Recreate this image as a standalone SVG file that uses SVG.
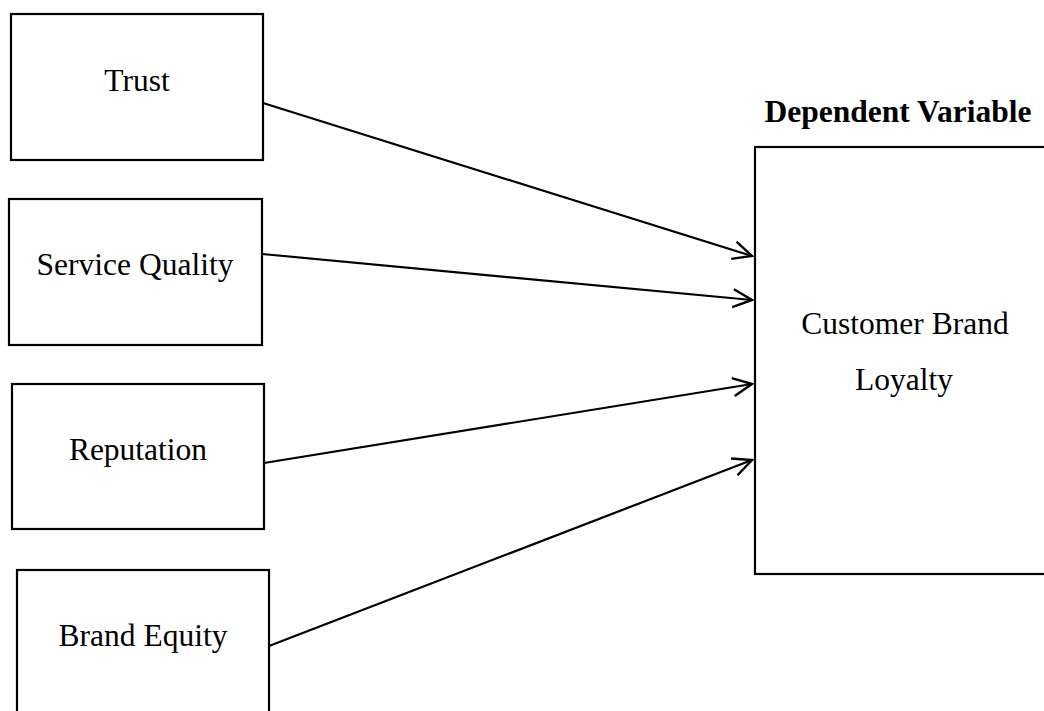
<svg xmlns="http://www.w3.org/2000/svg" width="1044" height="711" viewBox="0 0 1044 711">
<defs>
<style>
.box{fill:#fff;stroke:#000;stroke-width:2.2}
.lbl{font-family:"Liberation Serif","Times New Roman",serif;font-size:31.5px;fill:#000;text-anchor:middle}
.hdr{font-family:"Liberation Serif","Times New Roman",serif;font-size:31.5px;font-weight:bold;fill:#000;text-anchor:middle}
.con{fill:none;stroke:#000;stroke-width:2.2;marker-end:url(#arr)}
</style>
<marker id="arr" markerWidth="24" markerHeight="24" refX="20" refY="10" orient="auto" markerUnits="userSpaceOnUse">
<path d="M1,1 L20,10 L1,19" fill="none" stroke="#000" stroke-width="2.4"/>
</marker>
</defs>
<rect width="1044" height="711" fill="#fff"/>
<g id="trust"><rect class="box" x="11" y="14" width="252" height="146"/><text class="lbl" x="137" y="91">Trust</text></g>
<g id="service-quality"><rect class="box" x="9" y="199" width="253" height="146"/><text class="lbl" x="135" y="275">Service Quality</text></g>
<g id="reputation"><rect class="box" x="12" y="384" width="252" height="145"/><text class="lbl" x="138" y="460">Reputation</text></g>
<g id="brand-equity"><rect class="box" x="17" y="570" width="252" height="150"/><text class="lbl" x="143" y="646">Brand Equity</text></g>
<g id="dependent-header"><text class="hdr" x="898" y="122">Dependent Variable</text></g>
<g id="customer-brand-loyalty"><rect class="box" x="755" y="147" width="300" height="427"/><text class="lbl" x="905" y="334">Customer Brand</text><text class="lbl" x="904" y="390">Loyalty</text></g>
<g id="connectors">
<line class="con" x1="263" y1="103" x2="752" y2="256"/>
<line class="con" x1="262" y1="254" x2="752" y2="300"/>
<line class="con" x1="264" y1="463" x2="752" y2="384"/>
<line class="con" x1="269" y1="646" x2="752" y2="460"/>
</g>
</svg>
